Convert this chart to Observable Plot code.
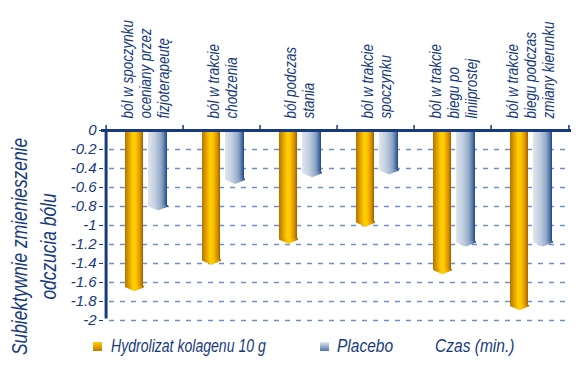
<!DOCTYPE html>
<html>
<head>
<meta charset="utf-8">
<script src="https://cdn.jsdelivr.net/npm/d3@7"></script>
<script src="https://cdn.jsdelivr.net/npm/@observablehq/plot@0.6"></script>
<style>
  body { margin: 0; background: #fff; }
  #wrap { position: relative; width: 580px; height: 369px; overflow: hidden;
          font-family: "Liberation Sans", Arial, sans-serif;
          font-style: italic; color: #173a7e; }
  #wrap svg { position: absolute; left: 0; top: 0; }
  .leg { position: absolute; top: 335px; font-size: 18.5px; white-space: nowrap; line-height: 22px;
         transform-origin: 0 0; transform: scaleX(0.8); }
  .sw { position: absolute; top: 342px; width: 9px; height: 9px; }
</style>
</head>
<body>
<div id="wrap"></div>
<script>
const categories = [
  "ból w spoczynku\noceniany przez\nfizjoterapeutę",
  "ból w trakcie\nchodzenia",
  "ból podczas\nstania",
  "ból w trakcie\nspoczynku",
  "ból w trakcie\nbiegu po\nliniiprostej",
  "ból w trakcie\nbiegu podczas\nzmiany kierunku"
];
const kolagen = [-1.65, -1.37, -1.15, -0.97, -1.47, -1.85];
const placebo = [-0.80, -0.52, -0.45, -0.42, -1.18, -1.18];
const yTicks = [0, -0.2, -0.4, -0.6, -0.8, -1, -1.2, -1.4, -1.6, -1.8, -2];
const seriesNames = ["Hydrolizat kolagenu 10 g", "Placebo"];
const yTitle = "Subiektywnie zmienieszenie\nodczucia bólu";
const xTitle = "Czas (min.)";

const navy = "#173a7e";
const font = '"Liberation Sans", Arial, sans-serif';

const goldData = categories.map((c, i) => ({cat: c, value: kolagen[i]}));
const blueData = categories.map((c, i) => ({cat: c, value: placebo[i]}));

const W = 580, H = 369, mL = 103, mR = 10, mT = 130, mB = 49;
const bw = (W - mL - mR) / categories.length;

function chevron(halfW) {
  return {draw(ctx) {
    ctx.moveTo(-halfW, -1.5); ctx.lineTo(halfW, -1.5); ctx.lineTo(halfW, 0);
    ctx.lineTo(0, 4); ctx.lineTo(-halfW, 0); ctx.closePath();
  }};
}

const defs = () => {
  const d = d3.create("svg:defs");
  const g = d.append("linearGradient").attr("id", "gGold").attr("x1", 0).attr("x2", 1).attr("y1", 0).attr("y2", 0);
  [[0, "#b87200"], [0.2, "#dc9c00"], [0.45, "#ffd000"], [0.6, "#ffc800"], [0.85, "#d89000"], [1, "#a05e00"]]
    .forEach(([o, c]) => g.append("stop").attr("offset", o).attr("stop-color", c));
  const b = d.append("linearGradient").attr("id", "gBlue").attr("x1", 0).attr("x2", 1).attr("y1", 0).attr("y2", 0);
  [[0, "#dfe6ef"], [0.35, "#c3d0e0"], [0.7, "#8fa7c6"], [0.88, "#4f74a6"], [1, "#1c4585"]]
    .forEach(([o, c]) => b.append("stop").attr("offset", o).attr("stop-color", c));
  return d.node();
};

const chart = Plot.plot({
  width: W, height: H,
  marginLeft: mL, marginRight: mR, marginTop: mT, marginBottom: mB,
  x: {domain: categories, padding: 0, axis: null},
  y: {domain: [-2, 0], axis: null},
  style: {fontFamily: font, fontStyle: "italic", color: navy, background: "transparent"},
  marks: [
    defs,
    Plot.ruleY(yTicks.filter(d => d !== 0), {
      stroke: "#6f90c4", strokeWidth: 1.6, strokeDasharray: "5,6", insetLeft: 6
    }),
    Plot.barY(goldData, {x: "cat", y: "value", fill: "url(#gGold)", insetLeft: 19, insetRight: 40}),
    Plot.dot(goldData, {x: "cat", y: "value", symbol: chevron(9.4), r: 5, fill: "url(#gGold)", stroke: null, dx: -10.3}),
    Plot.barY(blueData, {x: "cat", y: "value", fill: "url(#gBlue)", insetLeft: 42, insetRight: 16}),
    Plot.dot(blueData, {x: "cat", y: "value", symbol: chevron(9.9), r: 5, fill: "url(#gBlue)", stroke: null, dx: 13.1}),
    // y axis
    Plot.axisY(yTicks, {
      anchor: "left", tickSize: 4, tickPadding: 3, stroke: navy, fill: navy,
      fontSize: 15, tickFormat: d => String(+d.toFixed(1)), label: null
    }),
    // top axis line & band boundary ticks
    Plot.ruleY([0], {stroke: navy, strokeWidth: 3, insetLeft: -2, insetRight: -1}),
    Plot.ruleX(categories, {x: d => d, dx: -bw / 2, y1: 0, y2: 0, insetTop: -5, stroke: navy, strokeWidth: 1.5}),
    Plot.ruleX(categories.slice(-1), {x: d => d, dx: bw / 2, y1: 0, y2: 0, insetTop: -5, stroke: navy, strokeWidth: 1.5}),
    // left axis line
    Plot.ruleX(categories.slice(0, 1), {x: d => d, dx: -bw / 2, y1: -2, y2: 0, insetBottom: -1.5, insetTop: -1.5, stroke: navy, strokeWidth: 3}),
    // category labels
    Plot.text(categories, {
      x: d => d, text: d => d, frameAnchor: "top", dy: -12, rotate: -90,
      textAnchor: "start", lineAnchor: "middle", lineHeight: 1.06,
      fontSize: 17, fill: navy
    }),
    // y title
    Plot.text([yTitle], {
      text: d => d, frameAnchor: "left", dx: -71, dy: 21, rotate: -90,
      textAnchor: "middle", lineAnchor: "middle", lineHeight: 1.3,
      fontSize: 22, fill: navy
    })
  ]
});

// condense the rotated labels (narrow italic look)
chart.querySelectorAll('g[aria-label="text"] text').forEach(t => {
  t.setAttribute("transform", (t.getAttribute("transform") || "") + " scale(0.79,1)");
});

const wrap = document.getElementById("wrap");
wrap.appendChild(chart);

function addSwatch(left, grad) {
  const s = document.createElement("div");
  s.className = "sw"; s.style.left = left + "px"; s.style.background = grad;
  wrap.appendChild(s);
}
function addText(left, txt, sx) {
  const t = document.createElement("div");
  t.className = "leg"; t.style.left = left + "px"; t.textContent = txt;
  if (sx) t.style.transform = `scaleX(${sx})`;
  wrap.appendChild(t);
}
addSwatch(93, "linear-gradient(to bottom, #ffd000, #c07a00)");
addText(111, seriesNames[0], 0.76);
addSwatch(320, "linear-gradient(to bottom, #dfe6ef, #4f74a6)");
addText(337, seriesNames[1], 0.84);
addText(435, xTitle, 0.84);
</script>
</body>
</html>
